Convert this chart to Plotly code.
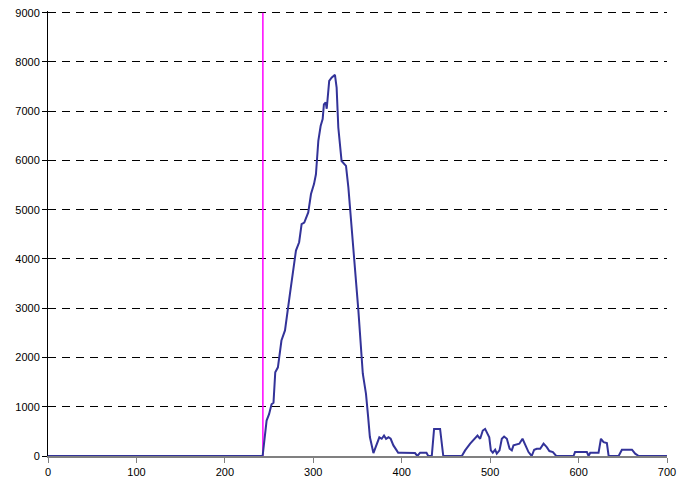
import plotly.graph_objects as go

# Main series (x, value)
series_x = [0, 100, 200, 242.7, 247.2, 250, 252.8, 255, 257, 260, 264, 268, 273.6, 277.4, 280.4, 284,
            286.8, 289.8, 294.3, 297.4, 300.8, 303, 305.7, 308.3, 310.6, 312, 314, 315.2, 316,
            318, 320.7, 324.5, 326.4, 328.3, 332, 337, 339.7, 345.3, 351, 356, 359.6, 362, 364,
            368, 371.7, 374.7, 377.4, 380, 382.3, 385, 387.5, 390.6, 394.3, 396, 400, 415,
            417.7, 420.8, 428, 430, 434, 436.6, 443.4, 447, 468, 471.7, 477.4, 481, 484, 485.7,
            488.7, 491.7, 494.3, 497, 499, 500.8, 503, 505.7, 507.5, 510.6, 513.2, 515.8, 518.9,
            522, 524.5, 526.4, 530, 533, 536.6, 539.6, 543.4, 547, 549.8, 552.8, 556.6, 560.4,
            564, 567, 571, 574.7, 594.3, 596, 609.4, 611.3, 613.2, 622.6, 625.3, 628.3, 632,
            634, 645.3, 649, 660.4, 664, 668, 700]
series_y = [0, 0, 0, 0, 720, 850, 1050, 1080, 1700, 1800, 2345, 2550, 3290, 3830, 4170, 4340,
            4710, 4740, 4946, 5318, 5520, 5720, 6400, 6700, 6840, 7140, 7180, 7050, 7200,
            7615, 7680, 7740, 7480, 6670, 5990, 5890, 5450, 4240, 2950, 1670, 1260, 800, 385,
            60, 250, 380, 350, 416, 350, 380, 350, 215, 114, 67, 67, 60,
            0, 67, 67, 0, 0, 550, 550, 0, 0, 114, 250, 330, 380, 416,
            350, 517, 550, 450, 380, 114, 67, 127, 47, 114, 350, 396, 350,
            148, 114, 215, 228, 250, 350, 215, 80, 0, 127, 148, 148, 250,
            181, 100, 80, 0, 0, 80, 80, 0, 67, 67, 350, 282, 262,
            0, 0, 127, 127, 47, 0, 0]

# Vertical marker
marker_x = [243, 243]
marker_y = [0, 9000]

x_ticks = [0, 100, 200, 300, 400, 500, 600, 700]
y_ticks = [0, 1000, 2000, 3000, 4000, 5000, 6000, 7000, 8000, 9000]

fig = go.Figure()
fig.add_trace(go.Scatter(x=marker_x, y=marker_y, mode="lines",
                         line=dict(color="#FF00FF", width=1.5), showlegend=False))
fig.add_trace(go.Scatter(x=series_x, y=series_y, mode="lines",
                         line=dict(color="#333399", width=2), showlegend=False))

fig.update_layout(
    width=694, height=488,
    margin=dict(l=48, r=27, t=11, b=32),
    paper_bgcolor="white", plot_bgcolor="white",
    font=dict(family="Liberation Sans, Arial, sans-serif", size=11, color="black"),
    xaxis=dict(range=[0, 700], tickvals=x_ticks, showgrid=False, zeroline=False,
               automargin=False,
               showline=True, linecolor="#808080", linewidth=2,
               ticks="outside", ticklen=5, tickcolor="#808080", tickwidth=1),
    yaxis=dict(range=[0, 9035], tickvals=y_ticks, showgrid=True, gridcolor="black",
               griddash="8px,6px", gridwidth=1, zeroline=False,
               automargin=False,
               showline=True, linecolor="black", linewidth=1,
               ticks="outside", ticklen=5, tickcolor="black"),
)

fig.write_html("out.html", config={"displayModeBar": False},
               post_script="document.body.style.margin='0';document.body.style.overflow='hidden';")
